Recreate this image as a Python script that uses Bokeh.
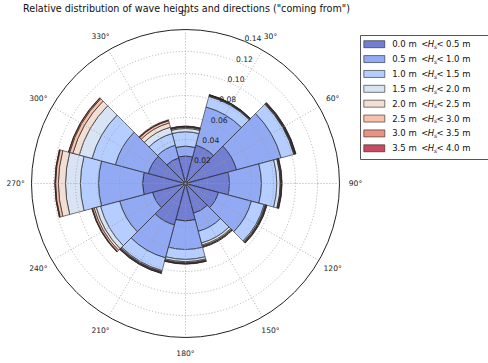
import numpy as np
from bokeh.plotting import figure
from bokeh.models import ColumnDataSource, Range1d
from bokeh.core.properties import value
from bokeh.embed import file_html
from bokeh.resources import INLINE

# ---------------- data ----------------
directions = [0, 30, 60, 90, 120, 150, 180, 210, 240, 270, 300, 330]
angle_labels = ["0°", "30°", "60°", "90°", "120°", "150°", "180°", "210°", "240°", "270°", "300°", "330°"]
bin_lo = [0.0, 0.5, 1.0, 1.5, 2.0, 2.5, 3.0, 3.5]
bin_hi = [0.5, 1.0, 1.5, 2.0, 2.5, 3.0, 3.5, 4.0]
radial_ticks = [0.02, 0.04, 0.06, 0.08, 0.10, 0.12, 0.14]
radial_labels = ["0.02", "0.04", "0.06", "0.08", "0.10", "0.12", "0.14"]

# relative frequency of each height bin, per direction (order of `directions`)
hs_00_05 = [0.025, 0.036, 0.048, 0.040, 0.031, 0.028, 0.034, 0.039, 0.031, 0.039, 0.035, 0.024]
hs_05_10 = [0.009, 0.036, 0.042, 0.029, 0.031, 0.017, 0.026, 0.031, 0.031, 0.040, 0.031, 0.012]
hs_10_15 = [0.013, 0.010, 0.012, 0.014, 0.012, 0.011, 0.009, 0.012, 0.018, 0.0165, 0.022, 0.011]
hs_15_20 = [0.003, 0.0005, 0.0005, 0.003, 0.001, 0.002, 0.002, 0.001, 0.004, 0.0135, 0.012, 0.006]
hs_20_25 = [0.001, 0.0005, 0.0005, 0.0005, 0.0005, 0.001, 0.001, 0.0005, 0.002, 0.0065, 0.006, 0.004]
hs_25_30 = [0.0005, 0.0002, 0.0003, 0.0005, 0.0005, 0.0005, 0.0005, 0.0005, 0.0015, 0.0025, 0.003, 0.002]
hs_30_35 = [0.0005, 0.0003, 0.0005, 0.0005, 0.0005, 0.0005, 0.0005, 0.0005, 0.0005, 0.0005, 0.001, 0.0005]
hs_35_40 = [0.0002, 0.0002, 0.0002, 0.0003, 0.0002, 0.0002, 0.0003, 0.0002, 0.0002, 0.0003, 0.0003, 0.0005]
series = [hs_00_05, hs_05_10, hs_10_15, hs_15_20, hs_20_25, hs_25_30, hs_30_35, hs_35_40]

colors = ["#3b4cc0", "#6889ee", "#9abaff", "#c9d8f0", "#edd1c1", "#f7a88b", "#e26953", "#b40426"]

# ---------------- layout helpers ----------------
OX, OY = -8, -8            # page position of the figure's top-left corner
W, H = 496, 371
CX, CY = 185.0, 183.0      # page position of polar centre
K = 1100.0                 # pixels per frequency unit


def X(px):
    return (px - CX) / K


def Y(py):
    return (CY - py) / K


FONT = value("DejaVu Sans")

p = figure(width=W, height=H, x_range=Range1d(X(OX), X(OX + W)), y_range=Range1d(Y(OY + H), Y(OY)),
           output_backend="svg", toolbar_location=None, min_border=0,
           x_axis_location=None, y_axis_location=None, outline_line_color=None)
p.xgrid.visible = False
p.ygrid.visible = False
p.margin = (-8, -8, -8, -8)

# ---------------- stacked bars ----------------
vals = np.array(series, dtype=float)
cum = np.cumsum(vals, axis=0)
inner = np.vstack([np.zeros(len(directions)), cum[:-1]])
dirs = np.array(directions, dtype=float)
start = np.radians(90 - dirs - 15)
end = np.radians(90 - dirs + 15)
for i in range(len(series)):
    src = ColumnDataSource(dict(inner=inner[i], outer=cum[i], start=start, end=end))
    p.annular_wedge(x=0, y=0, inner_radius="inner", outer_radius="outer",
                    start_angle="start", end_angle="end", source=src,
                    fill_color=colors[i], fill_alpha=0.72,
                    line_color="#222222", line_width=0.6)

# ---------------- polar grid ----------------
rmax = radial_ticks[-1]
p.arc(x=0, y=0, radius=radial_ticks[:-1], start_angle=0, end_angle=2 * np.pi,
      line_color="#9a9a9a", line_width=0.8, line_dash="1 2")
sp = np.radians(90 - dirs)
p.segment(x0=0, y0=0, x1=rmax * np.cos(sp), y1=rmax * np.sin(sp),
          line_color="#9a9a9a", line_width=0.8, line_dash="1 2")
p.arc(x=0, y=0, radius=rmax, start_angle=0, end_angle=2 * np.pi,
      line_color="#222222", line_width=1.0)

# angle labels
rl = 0.1545
p.text(x=rl * np.cos(sp), y=rl * np.sin(sp), text=angle_labels,
       text_align="center", text_baseline="middle", text_font=FONT,
       text_font_size="7.6px", text_color="#222222")

# radial labels (at 22.5 deg compass)
ra = np.radians(90 - 22.5)
rt = np.array(radial_ticks)
p.text(x=rt * np.cos(ra), y=rt * np.sin(ra), text=radial_labels,
       text_align="left", text_baseline="bottom", text_font=FONT,
       text_font_size="7.6px", text_color="#222222")

# title
p.text(x=[X(186)], y=[Y(7.5)], text=['Relative distribution of wave heights and directions ("coming from")'],
       text_align="center", text_baseline="middle", text_font=FONT,
       text_font_size="9.6px", text_color="#111111")

# ---------------- legend ----------------
p.quad(left=[X(360)], right=[X(500)], top=[Y(35)], bottom=[Y(159)],
       fill_color="white", line_color="#444444", line_width=0.9)
rows = np.arange(len(bin_lo))
ry = 43.7 + 14.87 * rows
p.rect(x=X(373.8), y=Y(ry), width=21, height=7, width_units="screen", height_units="screen",
       fill_color=colors, fill_alpha=0.72, line_color="#222222", line_width=0.6)
lo_txt = ["%.1f m" % v for v in bin_lo]
hi_txt = ["%.1f m" % v for v in bin_hi]
common = dict(text_baseline="middle", text_align="left", text_color="#111111")
p.text(x=X(391.7), y=Y(ry), text=lo_txt, text_font=FONT, text_font_size="8.5px", **common)
p.text(x=X(420.8), y=Y(ry), text=["<"] * len(rows), text_font=FONT, text_font_size="8.5px", **common)
p.text(x=X(427.3), y=Y(ry), text=["H"] * len(rows), text_font=FONT, text_font_size="8.5px",
       text_font_style="italic", **common)
p.text(x=X(433.4), y=Y(ry + 2.2), text=["s"] * len(rows), text_font=FONT, text_font_size="6px",
       text_font_style="italic", **common)
p.text(x=X(436.0), y=Y(ry), text=["<"] * len(rows), text_font=FONT, text_font_size="8.5px", **common)
p.text(x=X(445.5), y=Y(ry), text=hi_txt, text_font=FONT, text_font_size="8.5px", **common)

open("out.html", "w").write(file_html(p, INLINE))
